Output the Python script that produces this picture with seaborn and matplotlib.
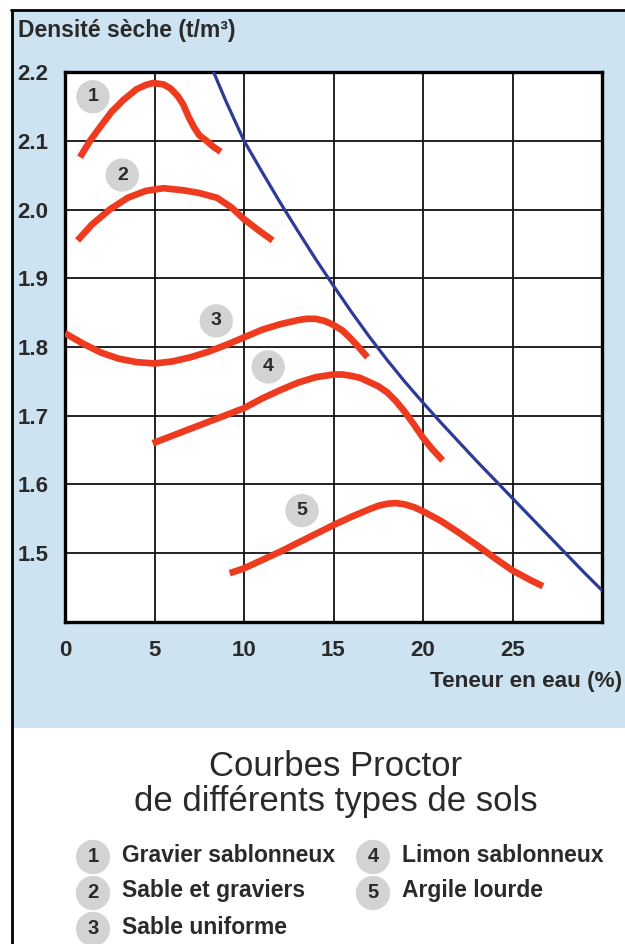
import matplotlib
matplotlib.use("Agg")
import matplotlib.pyplot as plt
from matplotlib.patches import Rectangle
from matplotlib.lines import Line2D
import pandas as pd
import seaborn as sns

# valeurs : teneur en eau (%) / densité sèche (t/m3)
gravier_sab_w = [0.84, 1.4, 1.96, 2.6, 3.25, 4.0, 4.5, 4.9, 5.5, 5.9, 6.3, 6.6, 6.9, 7.2, 7.5, 7.9, 8.3, 8.7]
gravier_sab_d = [2.076, 2.1, 2.12, 2.142, 2.159, 2.175, 2.181, 2.184, 2.182, 2.176, 2.165, 2.153, 2.135, 2.12, 2.108, 2.1, 2.091, 2.084]

sable_grav_w = [0.7, 1.5, 2.5, 3.5, 4.5, 5.5, 6.6, 7.5, 8.5, 9.3, 10.0, 10.8, 11.6]
sable_grav_d = [1.955, 1.978, 2.0, 2.017, 2.027, 2.031, 2.028, 2.024, 2.017, 2.003, 1.986, 1.97, 1.955]

sable_unif_w = [0, 1, 2, 3, 4, 5, 6, 7, 8, 9, 10, 11, 12, 13, 13.5, 14, 14.5, 15, 15.5, 15.9, 16.4, 16.9]
sable_unif_d = [1.82, 1.805, 1.792, 1.783, 1.778, 1.776, 1.779, 1.785, 1.793, 1.803, 1.814, 1.825, 1.833, 1.839, 1.841, 1.841, 1.838, 1.832, 1.824, 1.814, 1.8, 1.785]

limon_w = [4.9, 6, 7, 8, 9, 10, 11, 12, 13, 14, 14.5, 15, 15.5, 16, 16.5, 17, 17.5, 18, 18.5, 19, 19.5, 20, 20.5, 21.1]
limon_d = [1.66, 1.671, 1.681, 1.691, 1.701, 1.711, 1.725, 1.737, 1.748, 1.756, 1.758, 1.76, 1.76, 1.758, 1.755, 1.749, 1.743, 1.734, 1.721, 1.705, 1.687, 1.668, 1.652, 1.635]

argile_w = [9.2, 10, 11, 12, 13, 14, 15, 16, 17, 17.5, 18, 18.5, 19, 19.5, 20, 21, 22, 23, 24, 25, 26, 26.7]
argile_d = [1.471, 1.478, 1.49, 1.502, 1.515, 1.528, 1.541, 1.553, 1.564, 1.569, 1.572, 1.573, 1.571, 1.567, 1.561, 1.547, 1.53, 1.512, 1.493, 1.475, 1.461, 1.452]

# courbe de saturation (bleue)
satur_w = [8.3, 9, 10, 11, 12, 13, 14, 15, 16, 17, 18, 19, 20, 21, 22, 23, 24, 25, 26, 27, 28, 29, 30]
satur_d = [2.2, 2.157, 2.1, 2.055, 2.011, 1.969, 1.928, 1.889, 1.851, 1.815, 1.781, 1.749, 1.719, 1.69, 1.662, 1.634, 1.607, 1.58, 1.553, 1.526, 1.499, 1.472, 1.446]

soil_names = ["Gravier sablonneux", "Sable et graviers", "Sable uniforme",
              "Limon sablonneux", "Argile lourde"]
badge_w = [1.56, 3.2, 8.45, 11.35, 13.24]
badge_d = [2.164, 2.05, 1.838, 1.771, 1.562]

x_ticks = [0, 5, 10, 15, 20, 25]
y_ticks = [1.5, 1.6, 1.7, 1.8, 1.9, 2.0, 2.1, 2.2]

curves = [(gravier_sab_w, gravier_sab_d), (sable_grav_w, sable_grav_d),
          (sable_unif_w, sable_unif_d), (limon_w, limon_d), (argile_w, argile_d)]
rows = []
for name, (ws, ds) in zip(soil_names, curves):
    for w, d in zip(ws, ds):
        rows.append({"sol": name, "w": w, "d": d})
df = pd.DataFrame(rows)
df_sat = pd.DataFrame({"w": satur_w, "d": satur_d})

RED = "#ee3b1f"
BLUE = "#2b3b97"
PANEL = "#cde3f1"
TXT = "#2a2a2a"

sns.set_style("white")
plt.rcParams["font.family"] = ["Liberation Sans", "DejaVu Sans"]

W, H = 625, 944
fig = plt.figure(figsize=(6.25, 9.44), dpi=100)

def fx(px):
    return px / W

def fy(py):
    return 1 - py / H

# fond bleu + cadre
fig.patches.append(Rectangle((fx(13), fy(728)), fx(612), 717 / H, transform=fig.transFigure,
                             facecolor=PANEL, edgecolor="none", zorder=-5))
fig.add_artist(Line2D([fx(11), 1], [fy(10), fy(10)], color="black", lw=2, transform=fig.transFigure))
fig.add_artist(Line2D([fx(12), fx(12)], [fy(10), 0], color="black", lw=2, transform=fig.transFigure))

ax = fig.add_axes([fx(65), fy(622), fx(602) - fx(65), fy(72) - fy(622)])
ax.set_zorder(3)
ax.set_facecolor("white")

sns.lineplot(data=df, x="w", y="d", hue="sol", palette=[RED] * 5, sort=False,
             estimator=None, linewidth=4.8, solid_capstyle="butt", solid_joinstyle="round",
             legend=False, ax=ax, zorder=3)
sns.lineplot(data=df_sat, x="w", y="d", color=BLUE, sort=False, estimator=None,
             linewidth=2.3, solid_joinstyle="round", ax=ax, zorder=4)

ax.set_xlim(0, 30)
ax.set_ylim(1.4, 2.2)
ax.set_xticks(x_ticks)
ax.set_yticks(y_ticks)
ax.set_xticklabels([str(t) for t in x_ticks])
ax.set_yticklabels([f"{t:.1f}" for t in y_ticks])
ax.grid(True, color="#111111", linewidth=1.3)
ax.set_axisbelow(True)
ax.tick_params(length=0, labelsize=16, labelcolor=TXT)
ax.tick_params(axis="y", pad=12)
ax.tick_params(axis="x", pad=13)
for lab in ax.get_xticklabels() + ax.get_yticklabels():
    lab.set_fontweight("bold")
for sp in ax.spines.values():
    sp.set_visible(True)
    sp.set_color("black")
    sp.set_linewidth(2.4)
ax.set_xlabel("")
ax.set_ylabel("")

for i, (bw, bd) in enumerate(zip(badge_w, badge_d)):
    ax.text(bw, bd, str(i + 1), ha="center", va="center", fontsize=14, fontweight="bold",
            color=TXT, zorder=5,
            bbox=dict(boxstyle="circle,pad=0.42", fc="#d3d3d3", ec="none"))

fig.text(fx(18), fy(31), "Densité sèche (t/m³)", ha="left", va="center",
         fontsize=16.5, fontweight="bold", color=TXT)
fig.text(fx(622), fy(681), "Teneur en eau (%)", ha="right", va="center",
         fontsize=16.2, fontweight="bold", color=TXT)

fig.text(fx(336), fy(766), "Courbes Proctor", ha="center", va="center", fontsize=25, color=TXT)
fig.text(fx(336), fy(802), "de différents types de sols", ha="center", va="center", fontsize=25, color=TXT)

legend_pos = [(93, 857), (93, 893), (93, 929), (373, 857), (373, 893)]
for i, (name, (bx, by)) in enumerate(zip(soil_names, legend_pos)):
    fig.text(fx(bx), fy(by), str(i + 1), ha="center", va="center", fontsize=14.5,
             fontweight="bold", color=TXT,
             bbox=dict(boxstyle="circle,pad=0.38", fc="#d3d3d3", ec="none"))
    fig.text(fx(bx + 29), fy(by - 2), name, ha="left", va="center", fontsize=16.5,
             fontweight="bold", color=TXT)

fig.savefig("out.png", dpi=100)
